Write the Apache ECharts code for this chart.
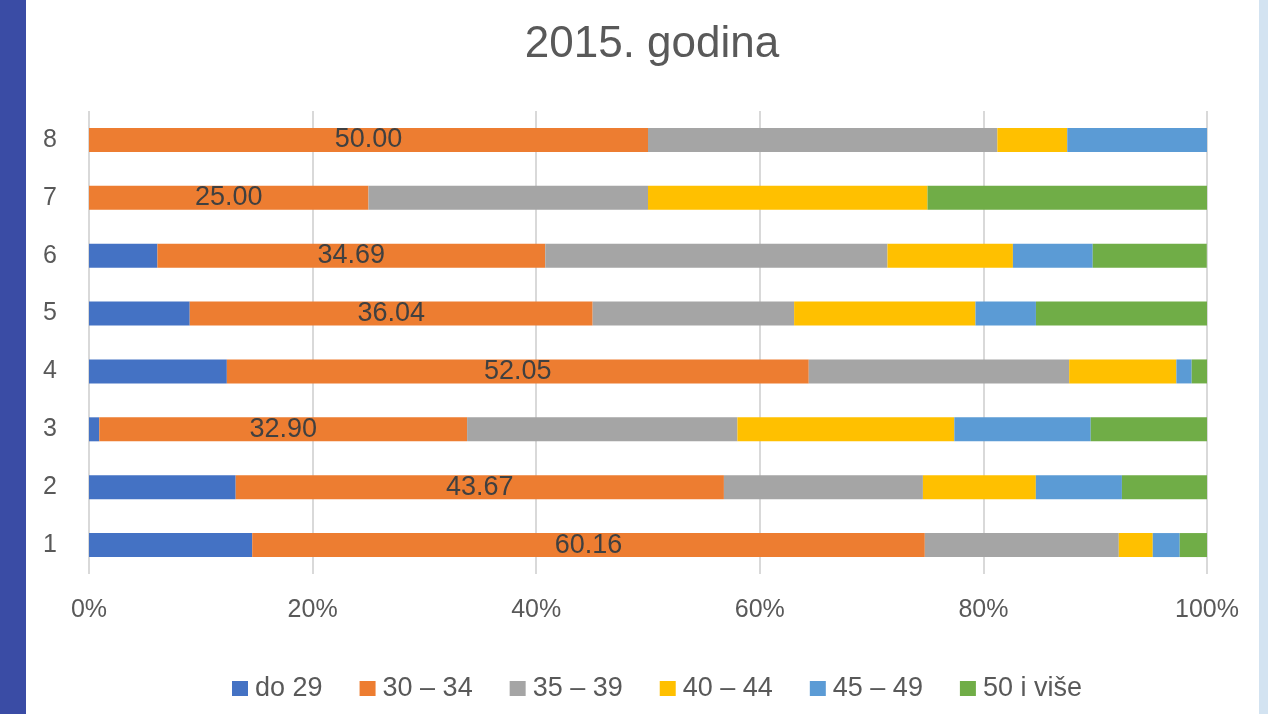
<!DOCTYPE html>
<html>
<head>
<meta charset="utf-8">
<script src="https://cdn.jsdelivr.net/npm/echarts@6/dist/echarts.min.js"></script>
<style>
  body { margin: 0; background: #fff; }
  #strip_l { position: absolute; left: 0; top: 0; width: 26px; height: 714px; background: #3a4ca5; }
  #strip_r { position: absolute; left: 1259px; top: 0; width: 9px; height: 714px; background: #d3e3f1; }
  #chart { position: absolute; left: 0; top: 0; width: 1268px; height: 714px; }
</style>
</head>
<body>
<div id="strip_l"></div>
<div id="strip_r"></div>
<div id="chart"></div>
<script>
  // redovi 1..8 (odozdo prema gore), udjeli u %
  var kategorije = ['1', '2', '3', '4', '5', '6', '7', '8'];
  var do29     = [14.6, 13.12, 0.92, 12.33, 9.01, 6.12, 0, 0];
  var od30do34 = [60.16, 43.67, 32.90, 52.05, 36.04, 34.69, 25.00, 50.00];
  var od35do39 = [17.35, 17.8, 24.18, 23.29, 18.02, 30.61, 25, 31.25];
  var od40do44 = [3.04, 10.1, 19.4, 9.59, 16.22, 11.22, 25, 6.25];
  var od45do49 = [2.41, 7.7, 12.2, 1.37, 5.41, 7.14, 0, 12.5];
  var preko50  = [2.44, 7.61, 10.4, 1.37, 15.30, 10.20, 25, 0];
  var xTicks = [0, 20, 40, 60, 80, 100];

  var tekst = '#595959';
  var font = 'Liberation Sans';

  function serija(ime, boja, data, label) {
    return {
      name: ime,
      type: 'bar',
      stack: 'ukupno',
      barWidth: 24,
      itemStyle: {color: boja},
      label: label ? {
        show: true, position: 'inside', color: '#404040', fontSize: 27, fontFamily: font,
        formatter: function (p) { return p.value.toFixed(2); }
      } : {show: false},
      emphasis: {disabled: true},
      data: data
    };
  }

  var chart = echarts.init(document.getElementById('chart'));
  chart.setOption({
    animation: false,
    title: {
      text: '2015. godina', left: 647, top: 18, textAlign: 'center',
      textStyle: {color: tekst, fontSize: 44, fontWeight: 'normal', fontFamily: font}
    },
    legend: {
      left: 227, top: 670, icon: 'rect', itemWidth: 16, itemHeight: 15, itemGap: 37,
      textStyle: {color: tekst, fontSize: 27, fontFamily: font, padding: [0, 0, 0, 2]},
      data: ['do 29', '30 – 34', '35 – 39', '40 – 44', '45 – 49', '50 i više']
    },
    grid: {left: 89, right: 61, top: 111, height: 463, containLabel: false},
    xAxis: {
      type: 'value', min: xTicks[0], max: xTicks[xTicks.length - 1], interval: 20,
      axisLine: {show: false}, axisTick: {show: false},
      splitLine: {lineStyle: {color: '#d9d9d9', width: 2}},
      axisLabel: {color: tekst, fontSize: 25, fontFamily: font, margin: 24, formatter: '{value}%'}
    },
    yAxis: {
      type: 'category', data: kategorije,
      axisLine: {show: false}, axisTick: {show: false},
      axisLabel: {color: tekst, fontSize: 25, fontFamily: font, margin: 32}
    },
    series: [
      serija('do 29', '#4472c4', do29),
      serija('30 – 34', '#ed7d31', od30do34, true),
      serija('35 – 39', '#a5a5a5', od35do39),
      serija('40 – 44', '#ffc000', od40do44),
      serija('45 – 49', '#5b9bd5', od45do49),
      serija('50 i više', '#70ad47', preko50)
    ]
  });
</script>
</body>
</html>
